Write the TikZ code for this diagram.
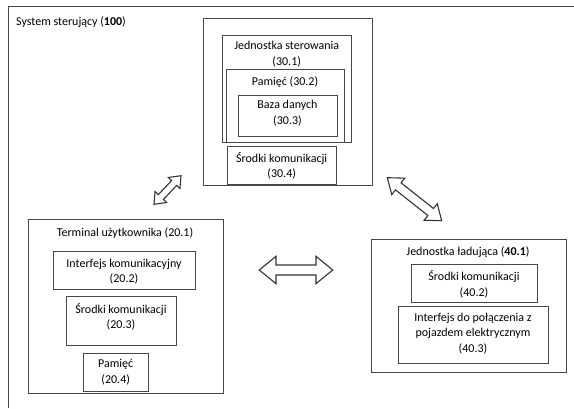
\documentclass[tikz,border=0pt]{standalone}
\usepackage{fontspec}
\setmainfont{Carlito}
\usetikzlibrary{calc,fit}
\newcommand\dblarr[6]{%
  \coordinate (#1p) at ($(#2)!#4!(#3)$);
  \coordinate (#1q) at ($(#3)!#4!(#2)$);
  \draw[arrline] (#2) -- ($(#1p)!#6!90:(#3)$) -- ($(#1p)!#5!90:(#3)$)
    -- ($(#1q)!#5!90:(#3)$) -- ($(#1q)!#6!90:(#3)$) -- (#3)
    -- ($(#1q)!#6!-90:(#3)$) -- ($(#1q)!#5!-90:(#3)$)
    -- ($(#1p)!#5!-90:(#3)$) -- ($(#1p)!#6!-90:(#3)$) -- cycle;}
\begin{document}
\begin{tikzpicture}[x=1pt,y=-1pt,
  box/.style={draw=black!72, line width=1pt, inner sep=0pt},
  arrline/.style={draw=black!80, line width=1.1pt, line join=miter, fill=white},
  txt/.style={font=\fontsize{12}{15.5}\selectfont, text=black, align=center, inner sep=0pt}]
\useasboundingbox (0,0) rectangle (574,408);
% outer frame (system 100), cut by the page edges
\coordinate (o1) at (8,408);
\coordinate (o2) at (8,6);
\coordinate (o3) at (574,6);
\draw[black!72, line width=1pt] (o1) -- (o2) -- (o3);
\node[txt, anchor=west] (t100) at (16,21.7) {System sterujący (\textbf{100})};
% control unit block
\node[box, fit={(203,18) (372,185)}] (b30) {};
\node[box, fit={(222,35) (351,142)}] (b301) {};
\node[box, fit={(226,69) (344,142)}] (b302) {};
\node[box, fit={(238,95) (337,136)}] (b303) {};
\node[box, fit={(227.5,146) (336,184)}] (b304) {};
\node[txt] (t301) at (286.7,54.2) {Jednostka sterowania\\(30.1)};
\node[txt] (t302) at (285,81.7) {Pamięć (30.2)};
\node[txt] (t303) at (287.5,113) {Baza danych\\(30.3)};
\node[txt] (t304) at (281.7,165.8) {Środki komunikacji\\(30.4)};
% user terminal
\node[box, fit={(28,219) (223,393)}] (b201) {};
\node[box, fit={(53,251) (195,289)}] (b202) {};
\node[box, fit={(66,296) (176,345)}] (b203) {};
\node[box, fit={(83,353) (148,391)}] (b204) {};
\node[txt] (t201) at (125,232.7) {Terminal użytkownika (20.1)};
\node[txt] (t202) at (124,271.5) {Interfejs komunikacyjny\\(20.2)};
\node[txt] (t203) at (121,316.7) {Środki komunikacji\\(20.3)};
\node[txt] (t204) at (115.7,372) {Pamięć\\(20.4)};
% charging unit
\node[box, fit={(371,239) (566,372)}] (b401) {};
\node[box, fit={(411,264) (537,302)}] (b402) {};
\node[box, fit={(398,306) (548,363)}] (b403) {};
\node[txt] (t401) at (468,251.7) {Jednostka ładująca (\textbf{40.1})};
\node[txt] (t402) at (474,284.2) {Środki komunikacji\\(40.2)};
\node[txt] (t403) at (473,333.5) {Interfejs do połączenia z\\pojazdem elektrycznym\\(40.3)};
% double arrows
\coordinate (ha) at (259.3,270);
\coordinate (hb) at (332.7,270);
\dblarr{h}{ha}{hb}{16.7pt}{5pt}{13.7pt}
\coordinate (ra) at (387.3,177.7);
\coordinate (rb) at (441.7,220.7);
\dblarr{r}{ra}{rb}{14pt}{4.5pt}{10.5pt}
\coordinate (la) at (154,204.3);
\coordinate (lb) at (181,175.7);
\dblarr{l}{la}{lb}{10pt}{3.5pt}{8pt}
\end{tikzpicture}
\end{document}
